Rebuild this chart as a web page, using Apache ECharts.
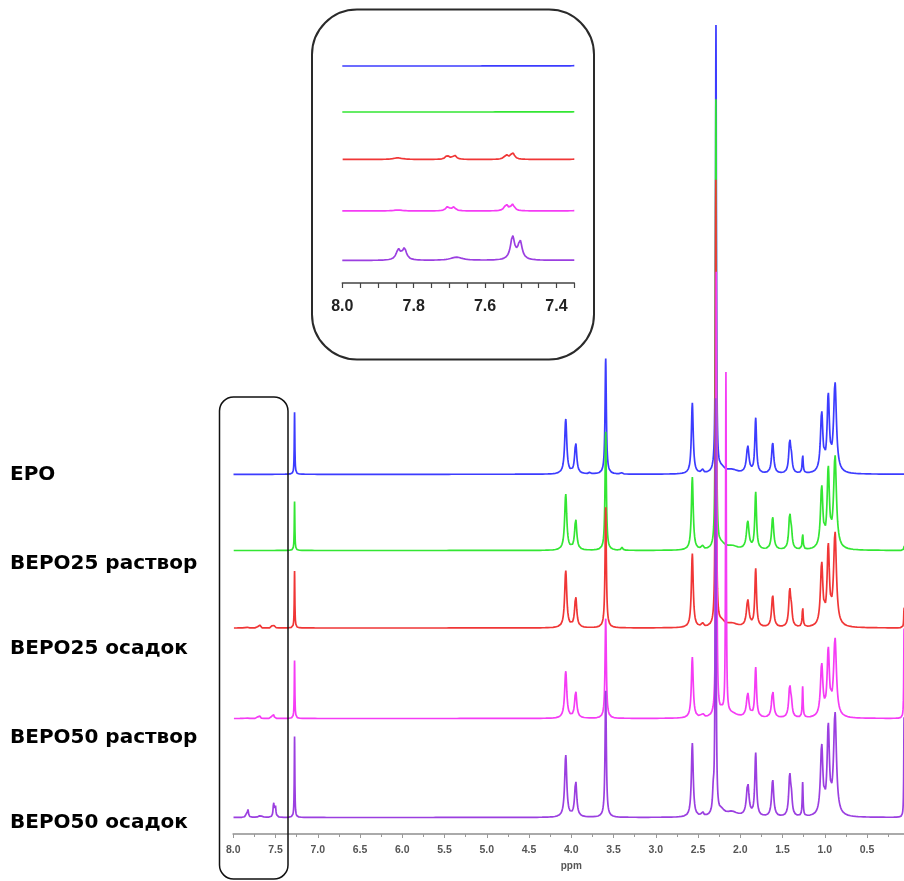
<!DOCTYPE html>
<html>
<head>
<meta charset="utf-8">
<script src="https://cdn.jsdelivr.net/npm/echarts@6/dist/echarts.min.js"></script>
<style>
  html, body { margin: 0; padding: 0; background: #fff; }
  #chart { width: 904px; height: 881px; }
</style>
</head>
<body>
<div id="chart"></div>
<script>
// Sample names, top to bottom
const sampleNames = ['EPO', 'BEPO25 раствор', 'BEPO25 осадок', 'BEPO50 раствор', 'BEPO50 осадок'];

// 1H NMR peak tables: [shift (ppm), peak height, half width at half height (ppm)]
const peaksEPO = [
  [7.275, 62, 0.004], [4.066, 55, 0.015], [3.948, 31, 0.015], [3.78, 1.5, 0.01], [3.593, 116, 0.009],
  [3.41, 1.5, 0.01], [2.568, 71, 0.013], [2.45, 4, 0.012], [2.288, 447, 0.006], [2.22, 5, 0.04], [2.10, 4, 0.08],
  [1.912, 27, 0.018], [1.818, 55, 0.012], [1.617, 31, 0.015], [1.415, 32, 0.014], [1.395, 12, 0.012],
  [1.262, 19, 0.007], [1.037, 59, 0.017], [0.959, 74, 0.016], [0.879, 89, 0.020]
];
const peaksBEPO25sol = [
  [7.275, 49, 0.004], [4.066, 56, 0.015], [3.948, 31, 0.015], [3.593, 119, 0.009], [3.40, 3, 0.01],
  [2.568, 73, 0.013], [2.45, 4, 0.012], [2.289, 449, 0.006], [2.22, 5, 0.04], [2.10, 4, 0.08],
  [1.912, 28, 0.018], [1.818, 57, 0.012], [1.617, 33, 0.015], [1.415, 34, 0.014], [1.395, 13, 0.012],
  [1.262, 16, 0.007], [1.037, 61, 0.017], [0.959, 77, 0.016], [0.879, 92, 0.020], [0.062, 6, 0.004]
];
const peaksBEPO25ppt = [
  [7.845, 1, 0.015], [7.706, 2.4, 0.006], [7.686, 2.6, 0.006], [7.541, 2.7, 0.006], [7.523, 4.2, 0.006],
  [7.275, 57, 0.004], [4.066, 57, 0.015], [3.948, 31, 0.015], [3.593, 121, 0.009], [2.568, 74, 0.013],
  [2.45, 4, 0.012], [2.290, 446, 0.006], [2.22, 5, 0.04], [2.10, 4, 0.08], [1.912, 27, 0.018], [1.818, 58, 0.012],
  [1.617, 32, 0.015], [1.415, 36, 0.014], [1.395, 13, 0.012], [1.262, 20, 0.007], [1.037, 62, 0.017],
  [0.959, 77, 0.016], [0.879, 93, 0.020], [0.062, 22, 0.004]
];
const peaksBEPO50sol = [
  [7.845, 0.6, 0.015], [7.705, 2.5, 0.006], [7.688, 2.3, 0.006], [7.541, 3.9, 0.006], [7.523, 3.9, 0.006],
  [7.275, 58, 0.004], [4.066, 47, 0.015], [3.948, 27, 0.015], [3.593, 100, 0.009], [2.568, 61, 0.013],
  [2.45, 5, 0.012], [2.284, 444, 0.006], [2.170, 341, 0.005], [2.22, 4, 0.04], [2.10, 4, 0.08], [1.912, 24, 0.018],
  [1.818, 50, 0.012], [1.617, 28, 0.015], [1.415, 31, 0.014], [1.395, 11, 0.012], [1.262, 31, 0.006],
  [1.037, 52, 0.017], [0.959, 65, 0.016], [0.879, 78, 0.020], [0.062, 90, 0.004]
];
const peaksBEPO50ppt = [
  [7.843, 6.5, 0.007], [7.826, 7, 0.007], [7.68, 2, 0.02], [7.523, 14.5, 0.007], [7.502, 11.5, 0.007],
  [7.275, 81, 0.004], [4.066, 62, 0.015], [3.948, 36, 0.015], [3.593, 127, 0.009], [2.568, 74, 0.013],
  [2.45, 5, 0.012], [2.32, 18, 0.010], [2.292, 415, 0.006], [2.22, 5, 0.04], [2.10, 5, 0.08], [1.912, 33, 0.018],
  [1.818, 63, 0.012], [1.617, 37, 0.015], [1.415, 40, 0.014], [1.395, 15, 0.012], [1.262, 34, 0.006],
  [1.037, 69, 0.017], [0.959, 86, 0.016], [0.879, 102, 0.020], [0.062, 100, 0.004]
];
const peakTables = [peaksEPO, peaksBEPO25sol, peaksBEPO25ppt, peaksBEPO50sol, peaksBEPO50ppt];

// Axis tick settings (ppm)
const mainRange = [0, 8.0];
const mainStep = 0.5;
const zoomRange = [7.35, 8.0];
const zoomStep = 0.05;
const zoomLabels = [8.0, 7.8, 7.6, 7.4];

// Layout: stacking offsets (px above the axis) and colours
const colors = ['#3c3cff', '#33e633', '#f03636', '#f53cf5', '#9b3fe0'];
const mainOffsets = [359.7, 283.5, 206, 115.5, 16.5];
const zoomOffsets = [217, 171, 123.5, 72, 22.5];
const zoomGain = 1.6;
const MAIN_H = 834, ZOOM_H = 283;

// Sum of Lorentzian lines of a peak table, sampled over [lo, hi]
function spectrum(peaks, lo, hi, step) {
  const xs = [];
  for (let x = lo; x <= hi + 1e-9; x += step) xs.push(Math.round(x * 1e5) / 1e5);
  peaks.forEach(([c, h, g]) => {
    [-3, -2, -1.2, -0.6, -0.3, 0, 0.3, 0.6, 1.2, 2, 3].forEach(k => {
      const x = c + k * g;
      if (x >= lo && x <= hi) xs.push(x);
    });
  });
  xs.sort((a, b) => a - b);
  return xs.map(x => {
    let y = 0;
    for (const [c, h, g] of peaks) { const d = (x - c) / g; y += h / (1 + d * d); }
    return [x, y];
  });
}

const series = [];
peakTables.forEach((peaks, i) => {
  const main = spectrum(peaks, mainRange[0], mainRange[1], 0.0025)
    .map(([x, y]) => [x, mainOffsets[i] + y]);
  series.push({
    name: sampleNames[i], type: 'line', xAxisIndex: 0, yAxisIndex: 0,
    data: main, showSymbol: false, clip: false, silent: true,
    lineStyle: { color: colors[i], width: 1.7 }, z: 2 + i
  });
});
peakTables.forEach((peaks, i) => {
  const zoom = spectrum(peaks, zoomRange[0], zoomRange[1], 0.001)
    .map(([x, y]) => [x, zoomOffsets[i] + zoomGain * y]);
  series.push({
    name: sampleNames[i] + ' 7.35–8.0', type: 'line', xAxisIndex: 1, yAxisIndex: 1,
    data: zoom, showSymbol: false, clip: true, silent: true,
    lineStyle: { color: colors[i], width: 1.7 }, z: 2 + i
  });
});

const labelYs = [476.7, 565.5, 651, 739.7, 825];
const graphics = sampleNames.map((n, i) => ({
  type: 'text', left: 10, top: labelYs[i] - 12,
  style: { text: n, font: 'bold 20px "DejaVu Sans"', fill: '#000' }
}));
graphics.push({
  type: 'rect', shape: { x: 219.5, y: 397, width: 68.5, height: 482, r: 14 },
  style: { fill: 'none', stroke: '#111', lineWidth: 1.5 }, z: 10
});
graphics.push({
  type: 'rect', shape: { x: 312, y: 9.5, width: 282, height: 350, r: 45 },
  style: { fill: 'none', stroke: '#2a2a2a', lineWidth: 2 }, z: 10
});

const chart = echarts.init(document.getElementById('chart'), null, { renderer: 'canvas' });
chart.setOption({
  animation: false,
  backgroundColor: '#fff',
  grid: [
    { left: 233.3, top: 0, width: 676, height: MAIN_H, containLabel: false, outerBoundsMode: 'none' },
    { left: 342.3, top: 0, width: 232, height: ZOOM_H, containLabel: false, outerBoundsMode: 'none' }
  ],
  xAxis: [
    {
      gridIndex: 0, type: 'value', inverse: true, min: mainRange[0], max: mainRange[1], interval: mainStep,
      name: 'ppm', nameLocation: 'middle', nameGap: 26,
      nameTextStyle: { color: '#555', fontSize: 10, fontWeight: 'bold', fontFamily: 'Liberation Sans' },
      axisLine: { lineStyle: { color: '#aaa', width: 2 } },
      axisTick: { length: 4, lineStyle: { color: '#999', width: 1 } },
      minorTick: { show: true, splitNumber: 2, length: 3, lineStyle: { color: '#999' } },
      splitLine: { show: false },
      axisLabel: {
        margin: 11, color: '#555', fontSize: 10.5, fontWeight: 'bold', fontFamily: 'Liberation Sans',
        formatter: v => (v < 0.01 ? '' : v.toFixed(1))
      }
    },
    {
      gridIndex: 1, type: 'value', inverse: true, min: zoomRange[0], max: zoomRange[1], interval: zoomStep,
      axisLine: { lineStyle: { color: '#444', width: 1.5 } },
      axisTick: { length: 5, lineStyle: { color: '#444', width: 1.2 } },
      splitLine: { show: false },
      axisLabel: {
        margin: 16, color: '#222', fontSize: 16, fontWeight: 'bold', fontFamily: 'Liberation Sans',
        showMinLabel: true, showMaxLabel: true,
        formatter: v => (zoomLabels.some(t => Math.abs(t - v) < 1e-6) ? v.toFixed(1) : '')
      }
    }
  ],
  yAxis: [
    { gridIndex: 0, type: 'value', min: 0, max: MAIN_H, show: false, splitLine: { show: false } },
    { gridIndex: 1, type: 'value', min: 0, max: ZOOM_H, show: false, splitLine: { show: false } }
  ],
  series: series,
  graphic: graphics
});
</script>
</body>
</html>
